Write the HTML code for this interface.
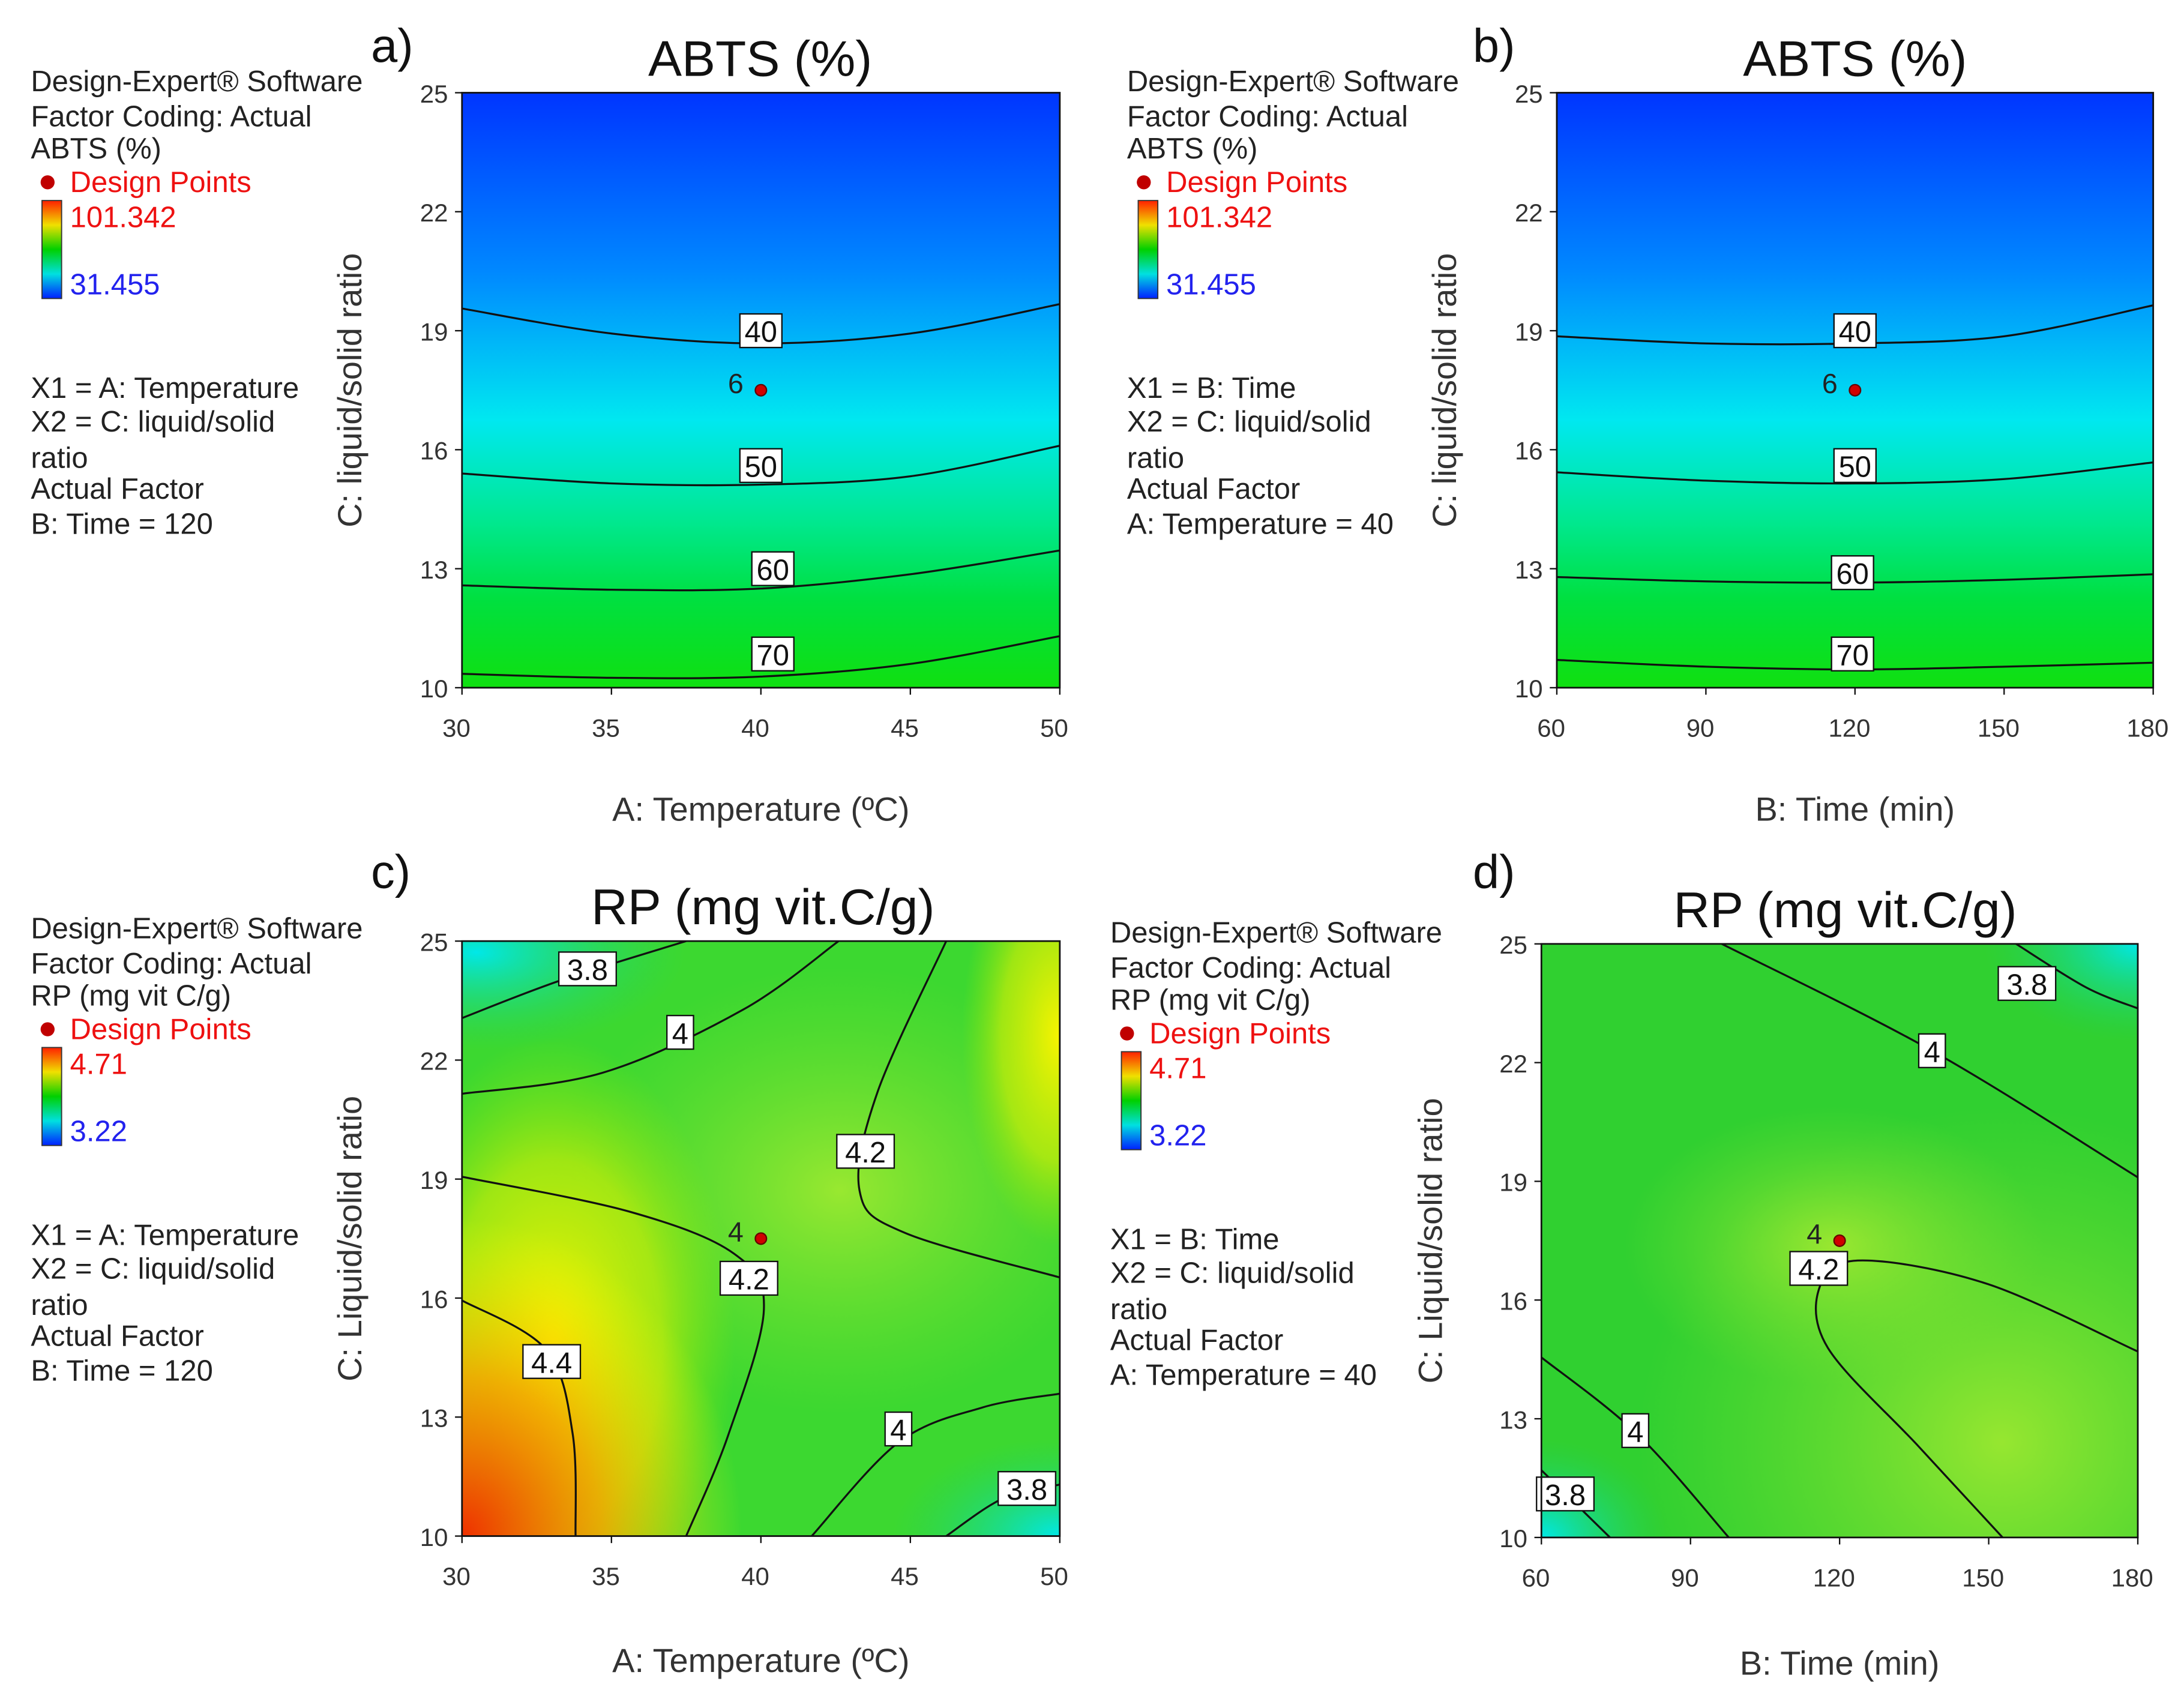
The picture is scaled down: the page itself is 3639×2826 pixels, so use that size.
<!DOCTYPE html>
<html><head><meta charset="utf-8"><style>
html,body{margin:0;padding:0;background:#fff}
svg{display:block}
text{font-family:"Liberation Sans",Arial,sans-serif}
</style></head><body>
<svg id="root" xmlns="http://www.w3.org/2000/svg" width="3639" height="2826" viewBox="0 0 1560 1211">
<defs>
 <linearGradient id="gAB" x1="0" y1="0" x2="0" y2="1">
  <stop offset="0" stop-color="#0035ff"/><stop offset="0.3" stop-color="#0088ff"/>
  <stop offset="0.55" stop-color="#00e8f0"/><stop offset="0.72" stop-color="#00e890"/>
  <stop offset="0.85" stop-color="#00e040"/><stop offset="1" stop-color="#10e010"/>
 </linearGradient>
 <radialGradient id="cOr" cx="0" cy="1" r="1"><stop offset="0" stop-color="#f03000"/><stop offset="0.5" stop-color="#f8a000" stop-opacity="0.8"/><stop offset="1" stop-color="#ffff00" stop-opacity="0"/></radialGradient>
 <radialGradient id="cYl" cx="0.5" cy="0.5" r="0.5"><stop offset="0" stop-color="#f8f400"/><stop offset="0.6" stop-color="#e0f000" stop-opacity="0.6"/><stop offset="1" stop-color="#a0e800" stop-opacity="0"/></radialGradient>
 <radialGradient id="gLt" cx="0.5" cy="0.5" r="0.5"><stop offset="0" stop-color="#b0ec30" stop-opacity="0.8"/><stop offset="1" stop-color="#80e030" stop-opacity="0"/></radialGradient>
 <radialGradient id="cCy" cx="0.5" cy="0.5" r="0.5"><stop offset="0" stop-color="#00e8e8"/><stop offset="1" stop-color="#20d060" stop-opacity="0"/></radialGradient>
 <linearGradient id="bar" x1="0" y1="0" x2="0" y2="1"><stop offset="0" stop-color="#ff2000"/><stop offset="0.25" stop-color="#f0e000"/><stop offset="0.5" stop-color="#00d000"/><stop offset="0.75" stop-color="#00e0e0"/><stop offset="1" stop-color="#0020ff"/></linearGradient>
 <clipPath id="clA"><rect x="330" y="66" width="427" height="425"/></clipPath>
 <clipPath id="clB"><rect x="1112" y="66" width="426" height="425"/></clipPath>
 <clipPath id="clC"><rect x="330" y="672" width="427" height="425"/></clipPath>
 <clipPath id="clD"><rect x="1101" y="674" width="426" height="424"/></clipPath>
</defs>
<rect x="330" y="66" width="427" height="425" fill="url(#gAB)"/>
<rect x="1112" y="66" width="426" height="425" fill="url(#gAB)"/>
<g clip-path="url(#clC)">
 <rect x="330" y="672" width="427" height="425" fill="#3cd830"/>
 <ellipse cx="600" cy="850" rx="200" ry="160" fill="url(#gLt)"/>
 <ellipse cx="395" cy="960" rx="130" ry="220" fill="url(#cYl)"/>
 <ellipse cx="757" cy="740" rx="70" ry="150" fill="url(#cYl)"/>
 <rect x="330" y="870" width="200" height="227" fill="url(#cOr)"/>
 <ellipse cx="340" cy="680" rx="150" ry="70" fill="url(#cCy)"/>
 <ellipse cx="757" cy="1097" rx="120" ry="70" fill="url(#cCy)"/>
</g>
<g clip-path="url(#clD)">
 <rect x="1101" y="674" width="426" height="424" fill="#30d030"/>
 <ellipse cx="1430" cy="1030" rx="260" ry="240" fill="url(#gLt)"/>
 <ellipse cx="1310" cy="890" rx="150" ry="100" fill="url(#gLt)"/>
 <ellipse cx="1527" cy="674" rx="110" ry="70" fill="url(#cCy)"/>
 <ellipse cx="1101" cy="1098" rx="90" ry="70" fill="url(#cCy)"/>
</g>
<g id="marks"></g>
<g id="axes"></g>
<g id="legends"></g>
</svg>
<script>
const NS="http://www.w3.org/2000/svg";
const levelsA=[40,50,60,70];
const contA_x=[30,35,40,45,50];
const contA_y=[[19.56,18.93,18.68,18.93,19.67],[15.4,15.15,15.12,15.33,16.1],[12.58,12.47,12.5,12.86,13.46],[10.35,10.25,10.28,10.6,11.3]];
const labA=[[40,19.0],[40,15.6],[40.4,13.0],[40.4,10.85]];
const levelsB=[40,50,60,70];
const contB_x=[60,90,120,150,180];
const contB_y=[[18.86,18.68,18.68,18.86,19.64],[15.43,15.22,15.15,15.26,15.68],[12.79,12.68,12.65,12.72,12.86],[10.7,10.53,10.46,10.53,10.63]];
const labB=[[120,19.0],[120,15.6],[119.5,12.9],[119.5,10.85]];
const levelsC=[3.8,4,4.2,4.2,4.4,4,3.8];
const contC=[[[30,23.06],[33.3,24.01],[37.5,25]],[[30,21.15],[34.7,21.68],[39.4,23.27],[42.6,25]],
 [[30,19.06],[35.6,18.18],[39.1,17.12],[40.1,15.71],[38.9,12.53],[37.5,10]],
 [[46.2,25],[43.9,21.19],[43.3,18.71],[44.8,17.65],[50,16.52]],
 [[30,15.94],[32.8,14.71],[33.7,12.59],[33.8,10]],[[41.7,10],[44.6,12.36],[47.4,13.24],[50,13.59]],
 [[46.2,10],[48.1,10.95],[50,11.3]]];
const labC=[[34.2,24.3],[37.3,22.7],[39.6,16.5],[43.5,19.7],[33,14.4],[44.6,12.7],[48.9,11.2]];
const levelsD=[3.8,4,4.2,4,3.8];
const contD=[[[155.5,25],[169.6,23.9],[180,23.37]],[[96.3,25],[138.6,22.3],[180,19.1]],
 [[180,14.7],[149.9,16.4],[124.6,17.0],[116.2,16.4],[117.6,14.8],[135.9,12.3],[152.8,10]],
 [[60,14.55],[79.4,12.6],[97.7,10]],[[60,11.7],[73.8,10]]];
const labD=[[157.7,24.0],[138.6,22.3],[115.8,16.8],[78.9,12.7],[64.8,11.1]];
const yTicks=[10,13,16,19,22,25];
const xTicksTemp=[30,35,40,45,50];
const xTicksTime=[60,90,120,150,180];
const points=[[40,17.5,"6"],[120,17.5,"6"],[40,17.5,"4"],[120,17.5,"4"]];

const panels=[
 {id:"a",x0:330,x1:757,y0:66,y1:491,dx:[30,50],xt:xTicksTemp,title:"ABTS (%)",xl:"A: Temperature (ºC)",yl:"C: liquid/solid ratio",lx:265,ly:32,tx:543,ytx:258,xlY:578},
 {id:"b",x0:1112,x1:1538,y0:66,y1:491,dx:[60,180],xt:xTicksTime,title:"ABTS (%)",xl:"B: Time (min)",yl:"C: liquid/solid ratio",lx:1052,ly:32,tx:1325,ytx:1040,xlY:578},
 {id:"c",x0:330,x1:757,y0:672,y1:1097,dx:[30,50],xt:xTicksTemp,title:"RP (mg vit.C/g)",xl:"A: Temperature (ºC)",yl:"C: Liquid/solid ratio",lx:265,ly:622,tx:545,ytx:258,xlY:1186},
 {id:"d",x0:1101,x1:1527,y0:674,y1:1098,dx:[60,180],xt:xTicksTime,title:"RP (mg vit.C/g)",xl:"B: Time (min)",yl:"C: Liquid/solid ratio",lx:1052,ly:622,tx:1318,ytx:1030,xlY:1188}];
function sx(p,v){return p.x0+(v-p.dx[0])/(p.dx[1]-p.dx[0])*(p.x1-p.x0);}
function sy(p,v){return p.y1-(v-10)/15*(p.y1-p.y0);}
function mk(tag,attrs,parent,txt){const e=document.createElementNS(NS,tag);for(const k in attrs)e.setAttribute(k,attrs[k]);if(txt!==undefined)e.textContent=txt;parent.appendChild(e);return e;}
function smooth(pts){let d="M"+pts[0][0]+","+pts[0][1];for(let i=0;i<pts.length-1;i++){const p0=pts[i-1]||pts[i],p1=pts[i],p2=pts[i+1],p3=pts[i+2]||p2;
 d+=" C"+(p1[0]+(p2[0]-p0[0])/6)+","+(p1[1]+(p2[1]-p0[1])/6)+" "+(p2[0]-(p3[0]-p1[0])/6)+","+(p2[1]-(p3[1]-p1[1])/6)+" "+p2[0]+","+p2[1];}return d;}
const marks=document.getElementById("marks"),axes=document.getElementById("axes");
function drawContours(p,lines,levels,labs){
 const g=mk("g",{"clip-path":"url(#cl"+p.id.toUpperCase()+")"},marks);
 lines.forEach((ln,i)=>{const path=mk("path",{d:smooth(ln.map(q=>[sx(p,q[0]),sy(p,q[1])])),fill:"none",stroke:"#111","stroke-width":1.4},g);
  
  });
 labs.forEach((l,i)=>{const cx=sx(p,l[0]),cy=sy(p,l[1]);const t=String(levels[i]);const w=t.length*11+8;
  const lg=mk("g",{},marks);
  
  
  mk("rect",{x:cx-w/2,y:cy-12,width:w,height:24,fill:"#fff",stroke:"#111","stroke-width":1},lg);
  mk("text",{x:cx,y:cy+8,"font-size":21,"text-anchor":"middle",fill:"#111"},lg,t);});
}
function line2arr(xs,ys){return ys.map(r=>r.map((v,i)=>[xs[i],v]));}
drawContours(panels[0],line2arr(contA_x,contA_y),levelsA,labA);
drawContours(panels[1],line2arr(contB_x,contB_y),levelsB,labB);
drawContours(panels[2],contC,levelsC,labC);
drawContours(panels[3],contD,levelsD,labD);
panels.forEach((p,i)=>{
 const pt=points[i];const cx=sx(p,pt[0]),cy=sy(p,pt[1]);
 const c=mk("circle",{cx:cx,cy:cy,r:4,fill:"#d00000",stroke:"#600","stroke-width":1},marks);
 
 
 mk("text",{x:cx-18,y:cy+2,"font-size":20,"text-anchor":"middle",fill:"#222"},marks,pt[2]);
 const fr=mk("rect",{x:p.x0,y:p.y0,width:p.x1-p.x0,height:p.y1-p.y0,fill:"none",stroke:"#111","stroke-width":1.2},axes);
 
 
 yTicks.forEach(v=>{const y=sy(p,v);mk("line",{x1:p.x0-5,x2:p.x0,y1:y,y2:y,stroke:"#111"},axes);
  const t=mk("text",{x:p.x0-10,y:y+7,"font-size":18,"text-anchor":"end",fill:"#333"},axes,String(v));
  
  });
 p.xt.forEach(v=>{const x=sx(p,v);mk("line",{x1:x,x2:x,y1:p.y1,y2:p.y1+5,stroke:"#111"},axes);
  const t=mk("text",{x:x-4,y:p.y1+35,"font-size":18,"text-anchor":"middle",fill:"#333"},axes,String(v));
  
  });
 const ti=mk("text",{x:p.tx,y:p.y0-12,"font-size":36,"text-anchor":"middle",fill:"#111"},axes,p.title);
 
 
 const le=mk("text",{x:p.lx,y:p.ly+12,"font-size":34,fill:"#111"},axes,p.id+")");
 
 
 const xl=mk("text",{x:(p.x0+p.x1)/2,y:p.xlY+8,"font-size":24,"text-anchor":"middle",fill:"#333"},axes,p.xl);
 
 
 const ym=(p.y0+p.y1)/2;
 const yl=mk("text",{x:p.ytx,y:ym,"font-size":24,"text-anchor":"middle",fill:"#333",transform:"rotate(-90 "+p.ytx+" "+ym+")"},axes,p.yl);
 
 
});
const legs=[
 {x:22,y:0,resp:"ABTS (%)",hi:"101.342",lo:"31.455",x1:"X1 = A: Temperature",af:"B: Time = 120"},
 {x:805,y:0,resp:"ABTS (%)",hi:"101.342",lo:"31.455",x1:"X1 = B: Time",af:"A: Temperature = 40"},
 {x:22,y:605,resp:"RP (mg vit C/g)",hi:"4.71",lo:"3.22",x1:"X1 = A: Temperature",af:"B: Time = 120"},
 {x:793,y:608,resp:"RP (mg vit C/g)",hi:"4.71",lo:"3.22",x1:"X1 = B: Time",af:"A: Temperature = 40"}];
const lg=document.getElementById("legends");
legs.forEach((L,i)=>{
 const g=mk("g",{transform:"translate("+L.x+","+L.y+")"},lg);
 
 
 const T=(yy,s,c)=>mk("text",{x:0,y:yy+7,"font-size":21,fill:c||"#222"},g,s);
 T(58,"Design-Expert® Software");T(83,"Factor Coding: Actual");T(106,L.resp);
 mk("circle",{cx:12,cy:130,r:5,fill:"#c00000"},g);
 mk("text",{x:28,y:137,"font-size":21,fill:"#ee1111"},g,"Design Points");
 mk("rect",{x:8,y:143,width:14,height:70,fill:"url(#bar)",stroke:"#333","stroke-width":0.8},g);
 mk("text",{x:28,y:162,"font-size":21,fill:"#ee1111"},g,L.hi);
 mk("text",{x:28,y:210,"font-size":21,fill:"#2222ee"},g,L.lo);
 T(277,L.x1);T(301,"X2 = C: liquid/solid");T(327,"ratio");T(349,"Actual Factor");T(374,L.af);
});
</script>
</body></html>
